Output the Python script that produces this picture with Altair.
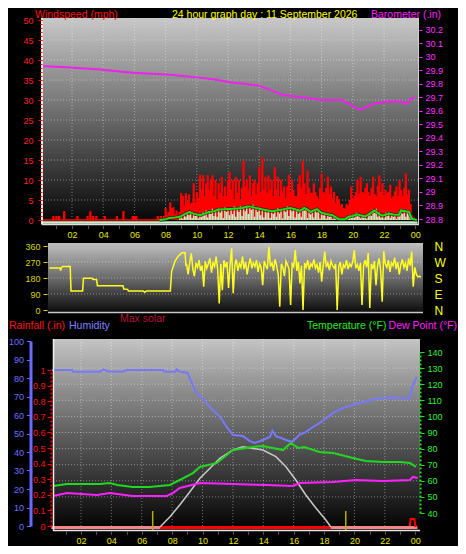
import altair as alt
import numpy as np
import pandas as pd

W, H = 450, 538
FONT = "Liberation Sans"


def px(v):
    """page pixel -> canvas pixel (page has an 8px margin)"""
    return v - 8


# ------------------------------------------------------------------ data
HOUR_TICKS = list(range(1, 25))
GRID_HOURS = list(range(2, 24, 2))

# Barometer (inHg)
BARO_T = [0.1, 0.26, 1.66, 3.77, 5.88, 8.06, 9.08, 10.17, 11.25, 12.28, 14.0,
          15.47, 16.56, 18.03, 19.31, 20.46, 21.42, 22.5, 23.15, 23.47, 23.66, 23.98]
BARO_V = [29.93, 29.929, 29.921, 29.905, 29.881, 29.869, 29.857, 29.845, 29.829,
          29.809, 29.786, 29.719, 29.702, 29.679, 29.679, 29.607, 29.655, 29.671,
          29.666, 29.65, 29.679, 29.702]

# Wind gust (mph): isolated night spikes, then a 6-minute series from 07:36
GUST_NIGHT_T = [0.8, 1.0, 1.17, 1.5, 2.35, 3.0, 3.18, 3.35, 3.56, 4.1, 4.88, 5.3, 5.9, 6.0, 6.12, 7.5]
GUST_NIGHT_V = [1.0, 1.0, 1.0, 2.2, 1.0, 1.0, 2.2, 1.0, 1.0, 1.0, 1.0, 2.2, 1.0, 1.0, 1.0, 1.0]
GUST_DAY_START = 7.6
GUST_DAY_V = [
    0.5, 1.0, 0.5, 1.0, 3.0, 1.2, 2.0, 4.4, 3.0, 3.2,
    1.5, 2.4, 1.2, 2.0, 6.7, 6.0, 3.6, 6.7, 5.0, 6.4,
    4.0, 4.4, 9.2, 4.4, 6.8, 5.5, 11.3, 7.6, 11.2, 6.0,
    9.2, 11.2, 7.6, 10.0, 11.2, 6.0, 10.0, 5.2, 9.2, 6.8,
    10.8, 6.0, 8.4, 6.0, 10.0, 12.0, 7.6, 10.0, 5.2, 10.8,
    6.8, 10.0, 4.8, 8.0, 14.8, 8.4, 10.0, 7.6, 11.2, 6.0,
    9.2, 10.0, 6.5, 9.2, 13.2, 7.0, 15.6, 7.6, 10.8, 6.8,
    11.2, 7.6, 10.0, 6.0, 13.2, 7.6, 10.8, 6.0, 10.0, 7.2,
    8.4, 5.5, 8.4, 11.3, 7.0, 10.0, 7.5, 6.0, 6.0, 9.0,
    11.2, 8.0, 14.8, 9.2, 6.5, 12.4, 8.0, 6.8, 6.8, 9.2,
    7.0, 6.0, 5.2, 8.0, 11.6, 7.0, 6.8, 8.0, 10.8, 6.5,
    8.4, 5.5, 7.0, 4.4, 6.0, 5.2, 3.5, 4.0, 3.0, 2.8,
    4.0, 3.6, 5.0, 8.4, 5.5, 6.0, 7.0, 10.0, 6.5, 10.8,
    7.0, 6.8, 8.0, 9.2, 7.0, 6.0, 8.0, 10.8, 6.5, 6.0,
    8.5, 11.2, 7.0, 9.2, 6.0, 7.5, 6.8, 7.0, 8.8, 5.5,
    6.0, 7.2, 8.4, 6.0, 10.0, 7.5, 6.0, 8.0, 11.6, 6.5,
    7.6, 4.0, 1.2, 0.8, 0.4,
]

# Wind speed (mph), 6-minute series from 08:54
SPEED_START = 8.9
SPEED_V = [
    0.5, 1.0, 0.3, 1.5, 0.8, 2.0, 1.2, 2.2, 0.5, 1.8,
    1.0, 1.5, 0.4, 1.6, 0.8, 2.0, 1.2, 2.4, 0.6, 2.2,
    1.5, 2.8, 1.0, 2.5, 0.8, 3.0, 1.8, 2.6, 0.5, 3.2,
    2.0, 2.8, 1.2, 3.0, 1.5, 3.4, 0.8, 2.8, 2.0, 3.5,
    1.0, 3.2, 2.2, 3.6, 1.5, 3.0, 2.5, 3.8, 0.8, 3.0,
    2.0, 3.2, 1.2, 2.6, 0.6, 2.8, 1.8, 2.4, 0.5, 2.5,
    1.5, 2.2, 0.8, 3.0, 1.6, 2.8, 0.4, 3.0, 2.0, 3.4,
    1.0, 3.2, 2.2, 2.6, 0.6, 2.4, 1.5, 2.0, 0.8, 3.2,
    2.4, 3.0, 0.5, 2.2, 1.4, 2.0, 0.6, 2.8, 1.8, 2.5,
    0.4, 2.0, 1.2, 1.6, 0.3, 1.4, 0.8, 1.2, 0.2, 1.0,
    0.4, 0.6, 0.0, 0.3, 0.0, 0.2, 0.0, 0.8, 0.3, 1.2,
    0.5, 1.4, 0.6, 1.8, 1.0, 1.5, 0.4, 1.2, 0.6, 1.0,
    0.3, 1.6, 2.0, 1.0, 2.6, 1.8, 2.8, 0.8, 2.0, 0.6,
    1.2, 0.4, 1.8, 1.0, 2.0, 0.5, 1.6, 0.8, 1.4, 0.3,
    1.5, 2.2, 2.8, 1.5, 2.6, 0.8, 2.2, 1.4, 0.8, 0.2,
    0.0,
]

# 10-minute average wind speed (mph)
AVG_T = [7.6, 7.95, 8.25, 8.6, 8.9, 9.2, 9.5, 9.8, 10.2, 10.5, 10.8, 11.1, 11.4, 11.8,
         12.3, 12.6, 12.9, 13.2, 13.4, 13.7, 14.0, 14.4, 14.8, 15.1, 15.5, 15.8, 16.0,
         16.3, 16.6, 16.9, 17.1, 17.3, 17.5, 17.7, 18.0, 18.3, 18.7, 19.1, 19.5, 19.75,
         20.0, 20.3, 20.55, 20.8, 21.1, 21.4, 21.65, 21.9, 22.1, 22.3, 22.6, 22.95,
         23.1, 23.35, 23.6, 23.8, 24.1]
AVG_V = [0.0, 0.1, 0.5, 0.6, 0.8, 1.4, 2.0, 1.6, 1.2, 1.6, 2.0, 2.2, 2.6, 2.7,
         2.8, 2.9, 3.0, 3.3, 3.4, 3.1, 2.8, 2.5, 2.2, 2.4, 2.6, 2.9, 3.0,
         2.7, 2.3, 3.0, 2.6, 2.0, 2.4, 2.7, 1.8, 1.5, 1.2, 0.2, 0.2, 0.8,
         1.0, 1.4, 1.1, 0.9, 1.6, 2.4, 1.6, 1.1, 1.3, 1.6, 1.4, 1.3,
         2.4, 2.2, 2.0, 0.3, 0.0]

# Wind direction (degrees): night steps, then a 6-minute series from 08:54
DIR_NIGHT_T = [0.05, 0.75, 0.78, 0.82, 0.9, 1.4, 1.45, 2.2, 2.25, 2.8, 2.9, 3.1, 3.15,
               4.8, 4.85, 5.1, 5.15, 6.1, 6.2, 6.3, 7.85, 7.93, 8.14, 8.33, 8.6, 8.8, 8.85]
DIR_NIGHT_V = [236, 236, 222, 236, 244, 244, 107, 107, 178, 178, 172, 172, 137,
               137, 118, 116, 107, 107, 100, 107, 107, 216, 272, 300, 322, 322, 253]
DIR_START = 8.9
DIR_V = [
    255, 200, 270, 319, 230, 190, 265, 240, 280, 220,
    250, 131, 275, 235, 260, 290, 210, 265, 245, 300,
    230, 37, 260, 112, 280, 240, 270, 124, 255, 347,
    95, 250, 285, 220, 260, 240, 300, 230, 270, 200,
    255, 290, 235, 265, 245, 280, 215, 260, 240, 140,
    275, 250, 230, 356, 245, 265, 220, 285, 250, 200,
    19, 260, 240, 190, 275, 255, 230, 28, 265, 245,
    337, 220, 270, 150, 250, 0, 265, 240, 280, 225,
    260, 245, 285, 235, 255, 210, 270, 160, 250, 328,
    240, 265, 225, 275, 250, 235, 260, 0, 245, 270,
    200, 255, 240, 280, 230, 260, 245, 270, 337, 235,
    255, 220, 265, 28, 250, 280, 240, 320, 11, 260,
    230, 275, 140, 250, 290, 225, 47, 330, 260, 240,
    280, 215, 265, 250, 295, 230, 270, 200, 255, 285,
    240, 265, 220, 290, 250, 328, 131, 240, 200, 187,
    190, 187,
]

# Humidity (%)
HUM_T = [0.1, 1.4, 1.5, 3.25, 3.5, 3.8, 4.76, 5.0, 7.4, 7.5, 8.2, 8.3, 8.5, 9.0, 9.6,
         10.0, 10.5, 11.15, 11.6, 12.0, 12.66, 13.12, 13.45, 13.97, 14.43, 14.6, 14.83,
         15.2, 15.49, 15.9, 16.41, 16.74, 17.26, 17.72, 18.58, 19.24, 19.89, 20.55,
         21.01, 21.87, 22.5, 23.0, 23.65, 23.84, 24.1]
HUM_V = [84.3, 84.3, 83.4, 83.4, 84.7, 83.5, 83.4, 84.3, 84.3, 83.4, 83.4, 84.7, 83.4,
         82.9, 72.0, 69.0, 64.0, 59.0, 53.5, 49.2, 48.6, 45.9, 44.9, 46.5, 48.1, 51.5,
         48.5, 47.5, 46.5, 45.5, 49.5, 50.5, 53.5, 55.7, 61.0, 63.8, 65.4, 67.0,
         68.0, 69.2, 69.5, 69.2, 69.2, 76.2, 80.5]

# Temperature (°F)
TEMP_T = [0.16, 1.08, 3.25, 3.9, 4.4, 5.4, 6.5, 7.85, 8.5, 9.37, 9.83, 10.95, 12.0,
          13.3, 13.97, 15.3, 15.8, 16.3, 16.7, 17.7, 18.6, 19.9, 20.75, 21.9, 23.0,
          23.65, 24.05]
TEMP_V = [56.8, 58.0, 58.0, 58.6, 57.4, 56.1, 56.1, 57.4, 60.5, 64.8, 68.6, 71.1, 79.1,
          81.0, 81.6, 79.1, 83.5, 80.4, 81.0, 77.9, 77.3, 74.2, 72.3, 71.7, 71.7,
          71.1, 68.6]

# Dew point (°F)
DEW_T = [0.16, 1.08, 3.05, 3.9, 5.4, 7.65, 8.05, 8.5, 9.83, 12.0, 14.2, 15.95, 16.4,
         18.6, 20.1, 21.9, 23.65, 23.85, 24.17]
DEW_V = [50.6, 52.4, 51.2, 52.4, 50.6, 50.6, 52.4, 55.5, 58.6, 58.0, 57.4, 56.8, 58.6,
         59.3, 60.5, 59.9, 60.5, 62.4, 61.8]

# Max solar (W/m²)
SOLAR_T = [7.2, 7.86, 8.5, 9.17, 9.83, 10.49, 11.14, 12.0, 12.66, 13.97, 14.83, 15.49,
           16.14, 16.8, 17.46, 18.12, 18.45]
SOLAR_V = [0, 103, 220, 353, 487, 587, 687, 770, 803, 770, 703, 603, 470, 320, 190, 70, 0]

# Rainfall (in)
RAIN_T = [0.05, 23.65, 23.7, 23.95, 24.0, 24.1]
RAIN_V = [0.0, 0.0, 0.045, 0.045, 0.0, 0.0]

SUN_EVENTS = [6.72, 19.43]  # sunrise / sunset markers

# ------------------------------------------------------------------ frames
gust_df = pd.DataFrame({
    "t": GUST_NIGHT_T + [GUST_DAY_START + 0.1 * i for i in range(len(GUST_DAY_V))],
    "v": GUST_NIGHT_V + GUST_DAY_V,
})
speed_df = pd.DataFrame({"t": [SPEED_START + 0.1 * i for i in range(len(SPEED_V))], "v": SPEED_V})
avg_df = pd.DataFrame({"t": AVG_T, "v": AVG_V})
baro_df = pd.DataFrame({"t": BARO_T, "p": BARO_V})
dir_df = pd.DataFrame({
    "t": DIR_NIGHT_T + [DIR_START + 0.1 * i for i in range(len(DIR_V))],
    "d": DIR_NIGHT_V + DIR_V,
})
hum_df = pd.DataFrame({"t": HUM_T, "h": HUM_V})
temp_df = pd.DataFrame({"t": TEMP_T, "v": TEMP_V})
dew_df = pd.DataFrame({"t": DEW_T, "v": DEW_V})
solar_df = pd.DataFrame({"t": SOLAR_T, "s": SOLAR_V})
rain_df = pd.DataFrame({"t": RAIN_T, "r": RAIN_V})
one = pd.DataFrame({"k": [0]})

# ------------------------------------------------------------------ scales
def lin(domain, rng):
    return alt.Scale(domain=domain, range=rng, nice=False, zero=False)

XT = lin([0, 24], [px(40.8), px(415.2)])
YW = lin([0, 50], [px(220), px(20)])
YB = lin([28.8, 30.2], [px(219.0), px(29.6)])
XM = lin([0, 24], [px(48.5), px(421)])
YD = lin([0, 360], [px(310), px(246)])
XB = lin([0, 24], [px(50.6), px(415.2)])
YH = lin([0, 100], [px(526), px(341)])
YR = lin([0, 1], [px(526), px(370)])
YT = lin([40, 140], [px(513), px(352)])
YS = lin([0, 800], [px(527), px(447)])

HOUR_LABEL = ("datum.value % 2 == 0 ? (((datum.value % 24) < 10 ? '0' : '') + (datum.value % 24)) : ''")


def x_axis(y_page):
    return alt.Axis(orient="bottom", offset=px(y_page) - H, values=HOUR_TICKS, labelExpr=HOUR_LABEL,
                    title=None, domain=False, tickColor="#505050", tickSize=4, labelPadding=2,
                    labelColor="#e8e800", labelFontSize=9, zindex=1)


# ------------------------------------------------------------------ helpers
def grad(stops):
    return alt.LinearGradient(gradient="linear",
                              stops=[alt.GradientStop(color=c, offset=o) for o, c in stops],
                              x1=0, x2=0, y1=0, y2=1)


def box(x1, x2, y1, y2, stops):
    return alt.Chart(one).mark_rect(fill=grad(stops)).encode(
        x=alt.value(px(x1)), x2=alt.value(px(x2)), y=alt.value(px(y1)), y2=alt.value(px(y2)))


def hrule(x1, x2, y, color, width=1.0, dash=None, opacity=1.0):
    kw = dict(color=color, strokeWidth=width, opacity=opacity)
    if dash:
        kw["strokeDash"] = dash
    return alt.Chart(one).mark_rule(**kw).encode(
        x=alt.value(px(x1)), x2=alt.value(px(x2)), y=alt.value(px(y)))


def vrule(x, y1, y2, color, width=1.0, dash=None, opacity=1.0):
    kw = dict(color=color, strokeWidth=width, opacity=opacity)
    if dash:
        kw["strokeDash"] = dash
    return alt.Chart(one).mark_rule(**kw).encode(
        x=alt.value(px(x)), y=alt.value(px(y1)), y2=alt.value(px(y2)))


def txt(s, x, y, color, size=10.5, align="left"):
    return alt.Chart(one).mark_text(text=s, color=color, fontSize=size, font=FONT,
                                    align=align, baseline="middle").encode(
        x=alt.value(px(x)), y=alt.value(px(y)))


GRID = dict(color="#ffffff", opacity=0.4, strokeDash=[1, 2], strokeWidth=1)

layers = []

# ================================================================ TOP PANEL
layers.append(box(42, 419, 18, 224, [(0, "#c8c8c8"), (0.45, "#707070"), (1, "#040404")]))
layers.append(alt.Chart(pd.DataFrame({"t": GRID_HOURS})).mark_rule(**GRID).encode(
    x=alt.X("t:Q", scale=XT, axis=None), y=alt.value(px(18)), y2=alt.value(px(224))))
layers.append(alt.Chart(pd.DataFrame({"w": list(range(5, 50, 5))})).mark_rule(**GRID).encode(
    y=alt.Y("w:Q", scale=YW, axis=None), x=alt.value(px(42)), x2=alt.value(px(419))))

# barometer
layers.append(alt.Chart(baro_df).mark_line(color="#f020f0", strokeWidth=2).encode(
    x=alt.X("t:Q", scale=XT, axis=None),
    y=alt.Y("p:Q", scale=YB, axis=alt.Axis(
        orient="right", offset=px(419) - W, values=[round(28.8 + 0.1 * i, 1) for i in range(15)],
        format=".1~f", title=None, domain=False, tickColor="#ff30ff", tickSize=3, labelPadding=3,
        labelColor="#ff30ff", labelFontSize=9, zindex=1))))

# red night baseline (gusts at zero)
layers.append(alt.Chart(pd.DataFrame({"a": [0.05], "b": [7.6], "v": [0.0]})).mark_rule(
    color="#ff0000", strokeWidth=1.5).encode(
    x=alt.X("a:Q", scale=XT, axis=None), x2="b:Q",
    y=alt.Y("v:Q", scale=YW, axis=alt.Axis(
        orient="left", offset=-px(42), values=list(range(0, 51)), labels=False, title=None,
        domain=False, tickColor="#ff0000", tickSize=2, zindex=1))))

# gust bars
layers.append(alt.Chart(gust_df).mark_rule(color="#ff0000", strokeWidth=2.3).encode(
    x=alt.X("t:Q", scale=XT, axis=x_axis(224.5)),
    y=alt.Y("v:Q", scale=YW, axis=alt.Axis(
        orient="left", offset=-px(42), values=list(range(0, 51, 5)), domain=False, title=None,
        tickColor="#ff0000", tickSize=4, labelPadding=5, labelColor="#ff2020",
        labelFontSize=9, zindex=1)),
    y2=alt.datum(0)))

# pale wind-speed baseline and bars
layers.append(alt.Chart(pd.DataFrame({"a": [0.05], "b": [24.15], "v": [-0.6]})).mark_rule(
    color="#c8f0c8", strokeWidth=2.5).encode(
    x=alt.X("a:Q", scale=XT, axis=None), x2="b:Q", y=alt.Y("v:Q", scale=YW, axis=None)))
layers.append(alt.Chart(speed_df).mark_rule(color="#c8f0c8", strokeWidth=1.4).encode(
    x=alt.X("t:Q", scale=XT, axis=None), y=alt.Y("v:Q", scale=YW, axis=None), y2=alt.datum(0)))

# average wind line
layers.append(alt.Chart(avg_df).mark_line(color="#000000", strokeWidth=3.5, opacity=0.6).encode(
    x=alt.X("t:Q", scale=XT, axis=None), y=alt.Y("v:Q", scale=YW, axis=None)))
layers.append(alt.Chart(avg_df).mark_line(color="#18e018", strokeWidth=2).encode(
    x=alt.X("t:Q", scale=XT, axis=None), y=alt.Y("v:Q", scale=YW, axis=None)))

# plot frame lines
layers.append(vrule(42, 18, 224.5, "#e8e8e8", 2))
layers.append(hrule(42, 419, 224.5, "#e0e0e0", 1.5))
layers.append(vrule(418.5, 18, 224.5, "#d0d0d0", 1))

# ================================================================ MIDDLE PANEL
layers.append(box(48, 423, 243, 313, [(0, "#c0c0c0"), (0.5, "#6a6a6a"), (1, "#0a0a0a")]))
layers.append(alt.Chart(pd.DataFrame({"d": [90, 180, 270]})).mark_rule(**GRID).encode(
    y=alt.Y("d:Q", scale=YD, axis=alt.Axis(
        orient="right", offset=px(422) - W, values=[0, 90, 180, 270, 360], title=None,
        labelExpr="['N','E','S','W','N'][datum.value / 90]", ticks=False, domain=False,
        labelPadding=12, labelColor="#ffff00", labelFontSize=12, zindex=1)),
    x=alt.value(px(48)), x2=alt.value(px(423))))
layers.append(hrule(48, 423, 312.5, "#c8c8c8", 1.5))
layers.append(alt.Chart(dir_df).mark_line(color="#ffff20", strokeWidth=1.5).encode(
    x=alt.X("t:Q", scale=XM, axis=None),
    y=alt.Y("d:Q", scale=YD, axis=alt.Axis(
        orient="left", offset=-px(47), values=[0, 90, 180, 270, 360], domain=False, title=None,
        tickColor="#d8d800", tickSize=4, labelPadding=3, labelColor="#d8d800",
        labelFontSize=9, zindex=1))))

# ================================================================ BOTTOM PANEL
layers.append(box(53, 420, 339, 530, [(0, "#c4c4c4"), (0.5, "#5e5e5e"), (1, "#020202")]))
layers.append(alt.Chart(pd.DataFrame({"t": GRID_HOURS})).mark_rule(**GRID).encode(
    x=alt.X("t:Q", scale=XB, axis=None), y=alt.value(px(339)), y2=alt.value(px(530))))
layers.append(alt.Chart(pd.DataFrame({"v": list(range(50, 140, 10))})).mark_rule(**GRID).encode(
    y=alt.Y("v:Q", scale=YT, axis=None), x=alt.value(px(53)), x2=alt.value(px(420))))

# rain baseline (pink) and daylight segment (red)
layers.append(alt.Chart(pd.DataFrame({"a": [0.05], "b": [24.15], "r": [-0.01]})).mark_rule(
    color="#f08888", strokeWidth=3).encode(
    x=alt.X("a:Q", scale=XB, axis=None), x2="b:Q", y=alt.Y("r:Q", scale=YR, axis=None)))
layers.append(alt.Chart(pd.DataFrame({"a": [SOLAR_T[0]], "b": [SOLAR_T[-1]], "r": [-0.01]})).mark_rule(
    color="#ff0000", strokeWidth=3).encode(
    x=alt.X("a:Q", scale=XB, axis=None), x2="b:Q", y=alt.Y("r:Q", scale=YR, axis=None)))
layers.append(alt.Chart(rain_df[rain_df["t"] > 23]).mark_line(color="#ff0000", strokeWidth=2).encode(
    x=alt.X("t:Q", scale=XB, axis=None), y=alt.Y("r:Q", scale=YR, axis=None)))
layers.append(alt.Chart(rain_df).mark_line(opacity=0).encode(
    x=alt.X("t:Q", scale=XB, axis=None),
    y=alt.Y("r:Q", scale=YR, axis=alt.Axis(
        orient="left", offset=-px(51), values=[round(0.1 * i, 1) for i in range(12)],
        format=".1~f", title=None, domainColor="#ff0000", domainDash=[2, 2], domainWidth=2,
        tickColor="#ff0000", tickSize=4, labelPadding=2, labelColor="#ff1010",
        labelFontSize=9, zindex=1))))

# sunrise / sunset markers
layers.append(alt.Chart(pd.DataFrame({"t": SUN_EVENTS})).mark_rule(color="#b0b000", strokeWidth=1.5).encode(
    x=alt.X("t:Q", scale=XB, axis=None), y=alt.value(px(511)), y2=alt.value(px(530))))

# lines
layers.append(alt.Chart(solar_df).mark_line(color="#c8c8c8", strokeWidth=1.5).encode(
    x=alt.X("t:Q", scale=XB, axis=None), y=alt.Y("s:Q", scale=YS, axis=None)))
layers.append(alt.Chart(dew_df).mark_line(color="#ff20ff", strokeWidth=2).encode(
    x=alt.X("t:Q", scale=XB, axis=None), y=alt.Y("v:Q", scale=YT, axis=None)))
layers.append(alt.Chart(temp_df).mark_line(color="#20d820", strokeWidth=2).encode(
    x=alt.X("t:Q", scale=XB, axis=x_axis(530.5)),
    y=alt.Y("v:Q", scale=YT, axis=alt.Axis(
        orient="right", offset=px(420) - W, values=list(range(40, 141, 10)), title=None,
        domainColor="#20e020", domainDash=[2, 2], domainWidth=2, tickColor="#20e020",
        tickSize=4, labelPadding=3, labelColor="#30f030", labelFontSize=9, zindex=1))))
layers.append(alt.Chart(hum_df).mark_line(color="#7878ff", strokeWidth=2).encode(
    x=alt.X("t:Q", scale=XB, axis=None),
    y=alt.Y("h:Q", scale=YH, axis=alt.Axis(
        orient="left", offset=-px(30.5), values=list(range(0, 101, 10)), title=None,
        domainColor="#6a6aff", domainWidth=3, tickColor="#6a6aff", tickSize=4,
        labelPadding=3, labelColor="#7070ff", labelFontSize=9, zindex=1))))

layers.append(vrule(53.5, 339, 531, "#f0f0f0", 1.5))
layers.append(hrule(53, 420, 530.5, "#e8e8e8", 1.5))

# ================================================================ TEXTS
layers.append(txt("Windspeed (mph)", 35, 14.5, "#ff1010"))
layers.append(txt("24 hour graph day : 11 September 2026", 172, 14.5, "#ffff00"))
layers.append(txt("Barometer (.in)", 371, 14.5, "#ff20ff"))
layers.append(txt("Max solar", 120, 319, "#b8103c"))
layers.append(txt("Rainfall (.in)", 9, 326, "#ff1010"))
layers.append(txt("Humidity", 69, 326, "#8080ff"))
layers.append(txt("Temperature (°F)", 307, 326, "#20f020"))
layers.append(txt("Dew Point (°F)", 457, 326, "#ff20ff", align="right"))

chart = alt.layer(*layers).properties(
    width=W, height=H, autosize=alt.AutoSizeParams(type="none"), padding=0
).resolve_scale(x="independent", y="independent").configure(
    background="#000000"
).configure_view(stroke=None).configure_axis(
    grid=False, labelFont=FONT, labelOverlap=False, labelFlush=False, labelBound=False
)

chart.save("out.html", embed_options={"renderer": "svg", "actions": False})
